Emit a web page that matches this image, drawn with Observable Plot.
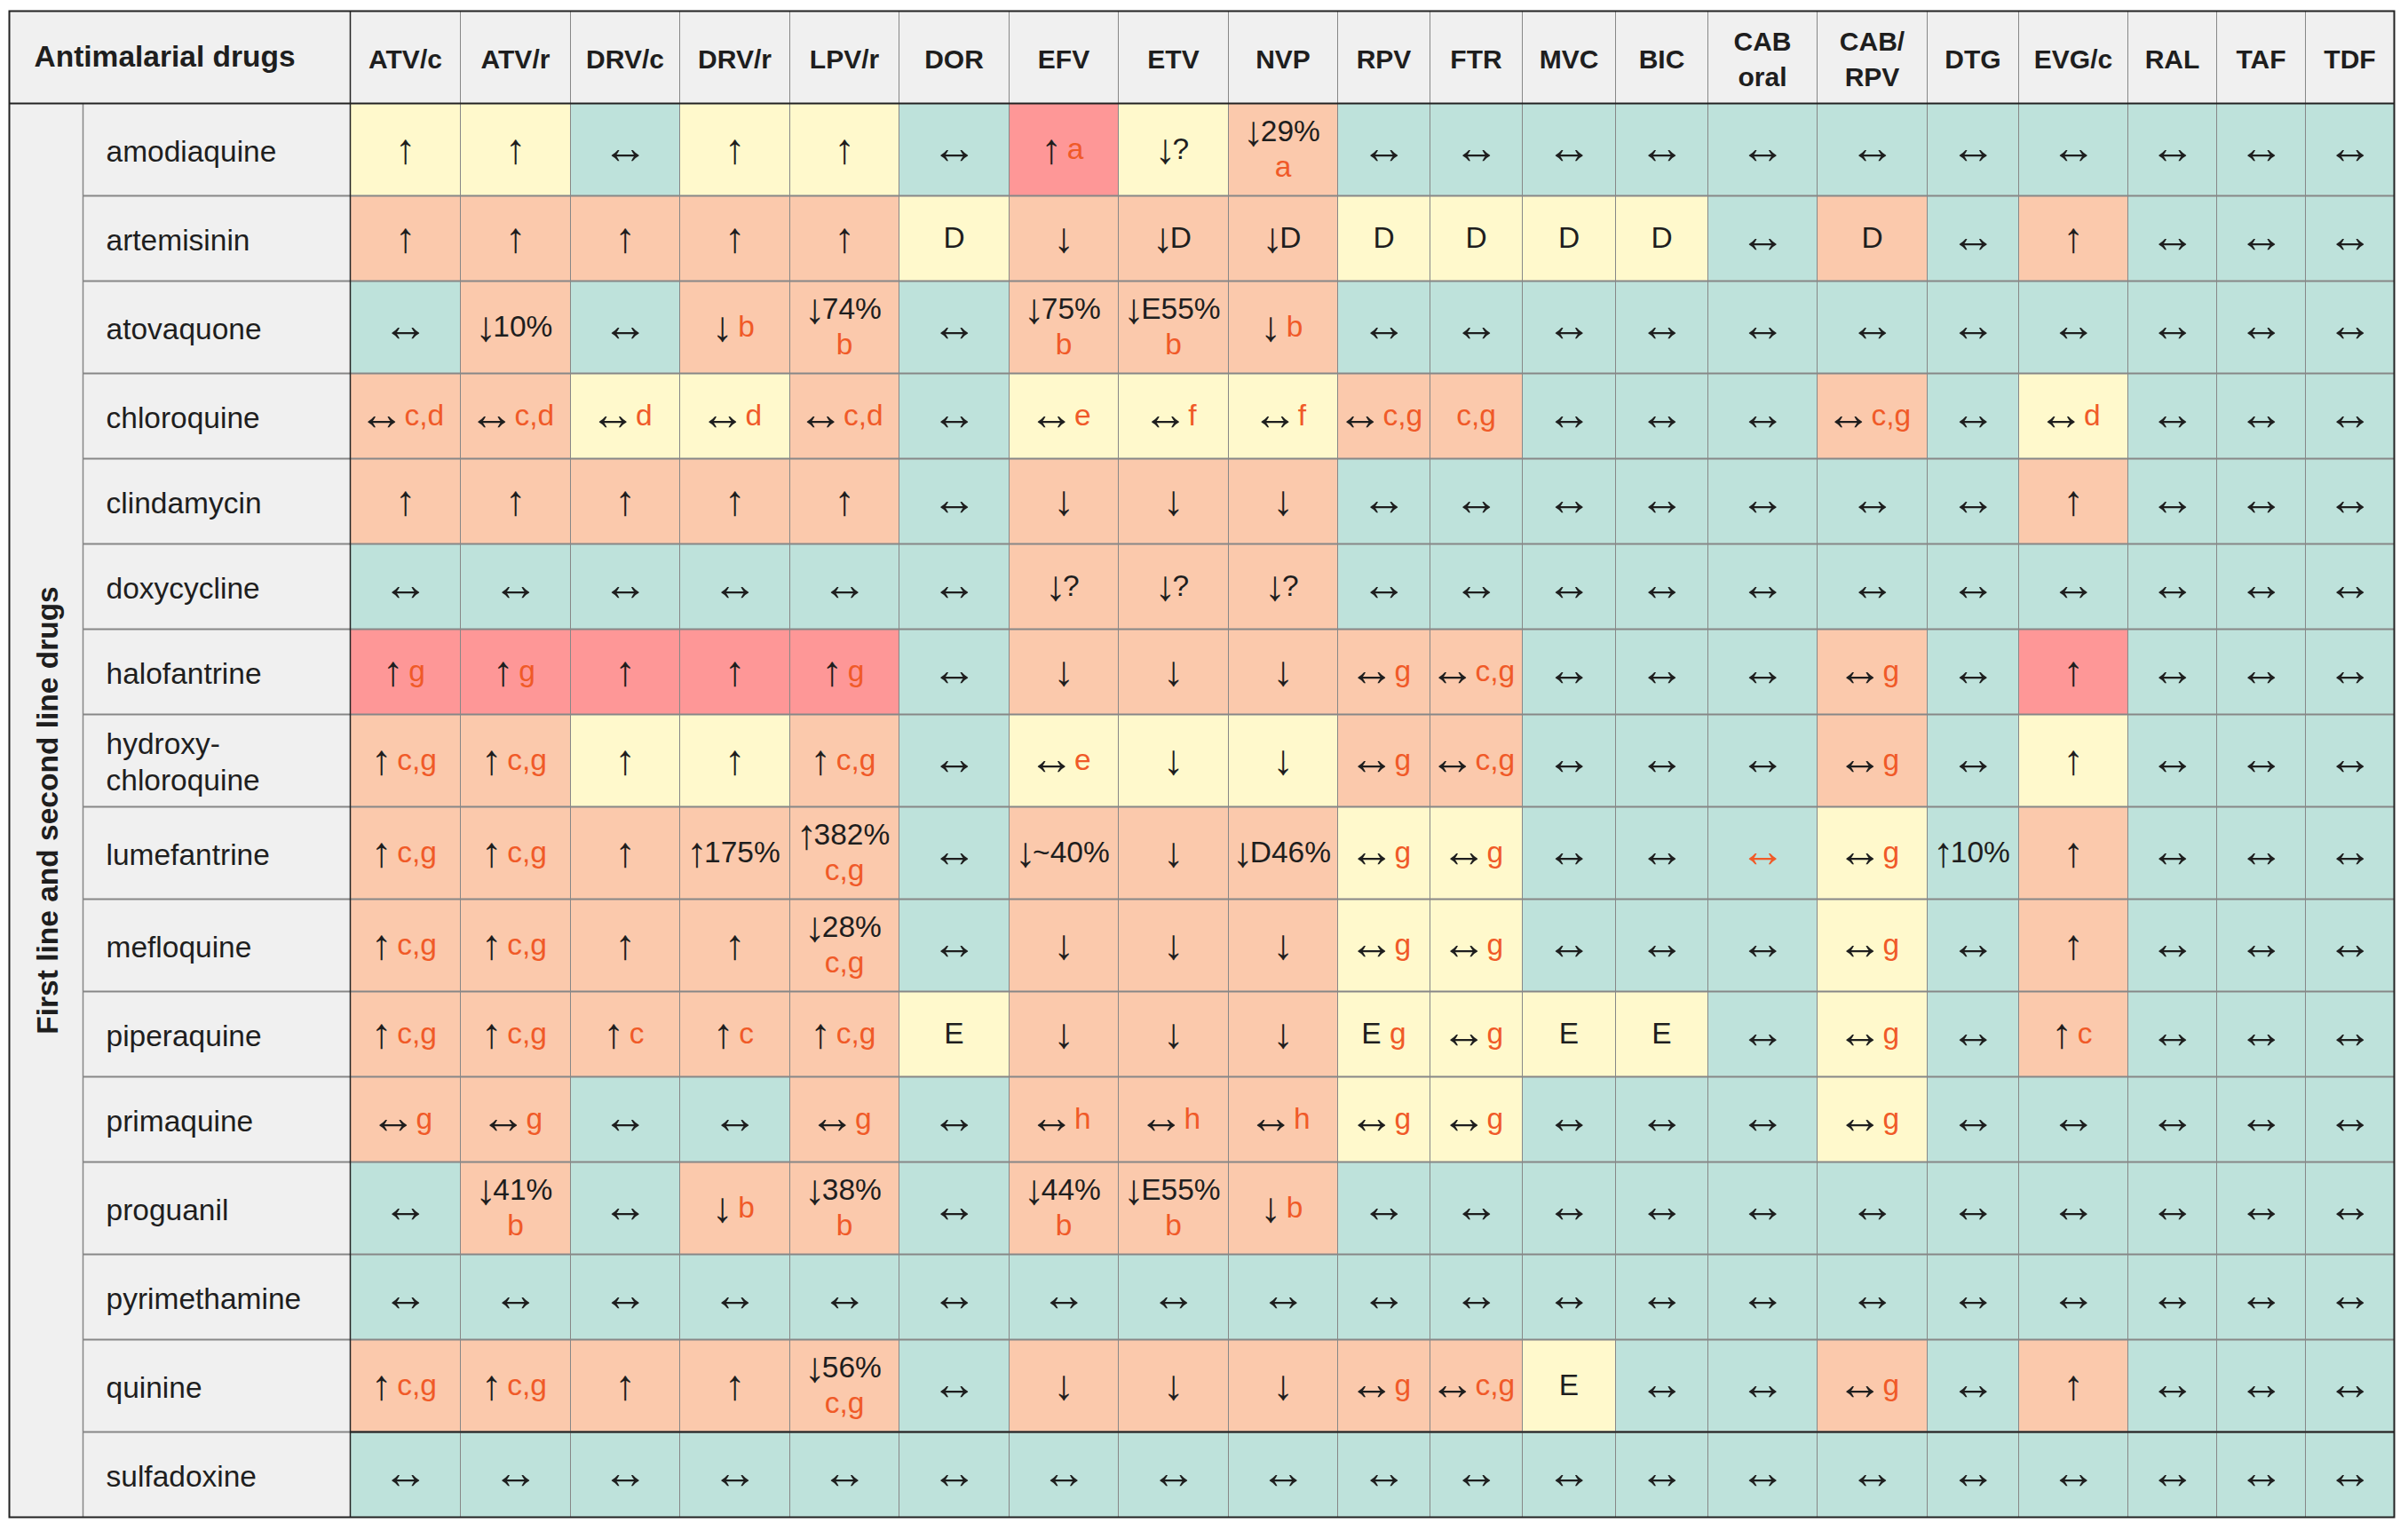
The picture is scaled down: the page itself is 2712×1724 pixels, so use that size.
<!DOCTYPE html>
<html>
<head>
<meta charset="utf-8">
<script src="https://cdn.jsdelivr.net/npm/d3@7"></script>
<script src="https://cdn.jsdelivr.net/npm/@observablehq/plot@0.6"></script>
<style>
  html, body { margin: 0; padding: 0; background: #ffffff; }
  #chart { width: 2712px; height: 1724px; }
</style>
</head>
<body>
<div id="chart"></div>
<script>
// ------------------------------------------------------------------
// DATA
// ------------------------------------------------------------------
const cornerLabel = "Antimalarial drugs";
const groupLabel = "First line and second line drugs";

const antiretrovirals = ["ATV/c","ATV/r","DRV/c","DRV/r","LPV/r","DOR","EFV","ETV","NVP","RPV",
  "FTR","MVC","BIC","CAB oral","CAB/RPV","DTG","EVG/c","RAL","TAF","TDF"];
const antiretroviralLabels = ["ATV/c","ATV/r","DRV/c","DRV/r","LPV/r","DOR","EFV","ETV","NVP","RPV",
  "FTR","MVC","BIC","CAB\noral","CAB/\nRPV","DTG","EVG/c","RAL","TAF","TDF"];

const antimalarials = ["amodiaquine","artemisinin","atovaquone","chloroquine","clindamycin","doxycycline",
  "halofantrine","hydroxychloroquine","lumefantrine","mefloquine","piperaquine","primaquine","proguanil",
  "pyrimethamine","quinine","sulfadoxine"];
const antimalarialLabels = ["amodiaquine","artemisinin","atovaquone","chloroquine","clindamycin","doxycycline",
  "halofantrine","hydroxy-\nchloroquine","lumefantrine","mefloquine","piperaquine","primaquine","proguanil",
  "pyrimethamine","quinine","sulfadoxine"];

// interaction level per cell: G = no interaction, Y = potential weak, O = potential, R = do not coadminister
const levelKeys = ["G","Y","O","R"];
const levelNames = ["No clinically significant interaction","Potential weak interaction","Potential interaction","Do not coadminister"];
const levels = [
  "YYGYYGRYOGGGGGGGGGGG", // amodiaquine
  "OOOOOYOOOYYYYGOGOGGG", // artemisinin
  "GOGOOGOOOGGGGGGGGGGG", // atovaquone
  "OOYYOGYYYOOGGGOGYGGG", // chloroquine
  "OOOOOGOOOGGGGGGGOGGG", // clindamycin
  "GGGGGGOOOGGGGGGGGGGG", // doxycycline
  "RRRRRGOOOOOGGGOGRGGG", // halofantrine
  "OOYYOGYYYOOGGGOGYGGG", // hydroxychloroquine
  "OOOOOGOOOYYGGGYGOGGG", // lumefantrine
  "OOOOOGOOOYYGGGYGOGGG", // mefloquine
  "OOOOOYOOOYYYYGYGOGGG", // piperaquine
  "OOGGOGOOOYYGGGYGGGGG", // primaquine
  "GOGOOGOOOGGGGGGGGGGG", // proguanil
  "GGGGGGGGGGGGGGGGGGGG", // pyrimethamine
  "OOOOOGOOOOOYGGOGOGGG", // quinine
  "GGGGGGGGGGGGGGGGGGGG"  // sulfadoxine
];

// effect text per cell; "x n" = note n beside the effect, "x/n" = note n below it
const effects = [
  ["↑","↑","↔","↑","↑","↔","↑ a","↓?","↓29%/a","↔","↔","↔","↔","↔","↔","↔","↔","↔","↔","↔"],
  ["↑","↑","↑","↑","↑","D","↓","↓D","↓D","D","D","D","D","↔","D","↔","↑","↔","↔","↔"],
  ["↔","↓10%","↔","↓ b","↓74%/b","↔","↓75%/b","↓E55%/b","↓ b","↔","↔","↔","↔","↔","↔","↔","↔","↔","↔","↔"],
  ["↔ c,d","↔ c,d","↔ d","↔ d","↔ c,d","↔","↔ e","↔ f","↔ f","↔ c,g","c,g","↔","↔","↔","↔ c,g","↔","↔ d","↔","↔","↔"],
  ["↑","↑","↑","↑","↑","↔","↓","↓","↓","↔","↔","↔","↔","↔","↔","↔","↑","↔","↔","↔"],
  ["↔","↔","↔","↔","↔","↔","↓?","↓?","↓?","↔","↔","↔","↔","↔","↔","↔","↔","↔","↔","↔"],
  ["↑ g","↑ g","↑","↑","↑ g","↔","↓","↓","↓","↔ g","↔ c,g","↔","↔","↔","↔ g","↔","↑","↔","↔","↔"],
  ["↑ c,g","↑ c,g","↑","↑","↑ c,g","↔","↔ e","↓","↓","↔ g","↔ c,g","↔","↔","↔","↔ g","↔","↑","↔","↔","↔"],
  ["↑ c,g","↑ c,g","↑","↑175%","↑382%/c,g","↔","↓~40%","↓","↓D46%","↔ g","↔ g","↔","↔","↔","↔ g","↑10%","↑","↔","↔","↔"],
  ["↑ c,g","↑ c,g","↑","↑","↓28%/c,g","↔","↓","↓","↓","↔ g","↔ g","↔","↔","↔","↔ g","↔","↑","↔","↔","↔"],
  ["↑ c,g","↑ c,g","↑ c","↑ c","↑ c,g","E","↓","↓","↓","E g","↔ g","E","E","↔","↔ g","↔","↑ c","↔","↔","↔"],
  ["↔ g","↔ g","↔","↔","↔ g","↔","↔ h","↔ h","↔ h","↔ g","↔ g","↔","↔","↔","↔ g","↔","↔","↔","↔","↔"],
  ["↔","↓41%/b","↔","↓ b","↓38%/b","↔","↓44%/b","↓E55%/b","↓ b","↔","↔","↔","↔","↔","↔","↔","↔","↔","↔","↔"],
  ["↔","↔","↔","↔","↔","↔","↔","↔","↔","↔","↔","↔","↔","↔","↔","↔","↔","↔","↔","↔"],
  ["↑ c,g","↑ c,g","↑","↑","↓56%/c,g","↔","↓","↓","↓","↔ g","↔ c,g","E","↔","↔","↔ g","↔","↑","↔","↔","↔"],
  ["↔","↔","↔","↔","↔","↔","↔","↔","↔","↔","↔","↔","↔","↔","↔","↔","↔","↔","↔","↔"]
];

// cells whose effect symbol itself is printed in the note colour
const emphasisedSymbols = [["lumefantrine","CAB oral"]];
// rows drawn with a dark rule above them
const darkRuleAbove = ["sulfadoxine"];

// ------------------------------------------------------------------
// LAYOUT AND STYLE
// ------------------------------------------------------------------
const layout = {
  groupW: 83, labelW: 301, headerH: 104, tallRow: 104, shortRow: 96,
  labelPad: 26, cornerPad: 28, lineOff: 20,
  colW: {"ATV/c":124,"ATV/r":124,"DRV/c":123,"DRV/r":124,"LPV/r":123,"DOR":124,"EFV":123,"ETV":124,
         "NVP":123,"RPV":104,"FTR":104,"MVC":105,"BIC":104,"CAB oral":123,"CAB/RPV":124,"DTG":103,
         "EVG/c":123,"RAL":100,"TAF":100,"TDF":100}
};
const FS = 33.5, HFS = 30;
const arrowFS = {"↑": 47, "↓": 47, "↔": 52};
const arrowLift = {"↑": 0, "↓": 0, "↔": 1.5};
const fontFamily = "'Liberation Sans', Arial, Helvetica, sans-serif";
const levelColours = ["#bee2db", "#fff9cc", "#fbc9ac", "#fe9797"];
const ink = "#1e1e1e", noteColour = "#f05a28", gridColour = "#878787", darkColour = "#222222", panelColour = "#f0f0f0";

// ------------------------------------------------------------------
// DERIVED TABLES
// ------------------------------------------------------------------
const columns = [];
let xAcc = layout.groupW + layout.labelW;
antiretrovirals.forEach((name, i) => {
  const w = layout.colW[name];
  columns.push({name, label: antiretroviralLabels[i], x1: xAcc, x2: xAcc + w, cx: xAcc + w / 2});
  xAcc += w;
});
const tableW = xAcc;

const rows = [];
let yAcc = layout.headerH;
antimalarials.forEach((name, r) => {
  const tall = antimalarialLabels[r].includes("\n") || effects[r].some(e => e.includes("/"));
  const h = tall ? layout.tallRow : layout.shortRow;
  rows.push({name, label: antimalarialLabels[r], y1: yAcc, y2: yAcc + h, cy: yAcc + h / 2});
  yAcc += h;
});
const tableH = yAcc;

const ctx = document.createElement("canvas").getContext("2d");
ctx.font = `${FS}px ${fontFamily}`;
const tw = s => (s ? ctx.measureText(s).width : 0);

const cells = [], arrows = [], words = [], notes = [];
rows.forEach((row, r) => columns.forEach((col, c) => {
  const e = effects[r][c];
  cells.push({antimalarial: row.name, antiretroviral: col.name, level: levels[r][c],
              x1: col.x1, x2: col.x2, y1: row.y1, y2: row.y2});
  let main = e, inline = "", below = "";
  if (e.includes("/")) [main, below] = e.split("/");
  else if (e.includes(" ")) [main, inline] = e.split(" ");
  else if (/^[a-h](,[a-h])*$/.test(e)) { main = ""; inline = e; }
  let arrow = "", rest = main;
  if (main && arrowFS[main[0]]) { arrow = main[0]; rest = main.slice(1); }
  const ly = below ? row.cy - layout.lineOff : row.cy;
  const wA = tw(arrow), wR = tw(rest), gap = main && inline ? tw(" ") : 0;
  const total = wA + wR + gap + tw(inline);
  const sx = col.cx - total / 2;
  const emph = emphasisedSymbols.some(([m, a]) => m === row.name && a === col.name);
  if (arrow) arrows.push({x: sx + wA / 2, y: ly - arrowLift[arrow], text: arrow, size: arrowFS[arrow], emph});
  if (rest) words.push({x: sx + wA, y: ly, text: rest});
  if (inline) notes.push({x: sx + wA + wR + gap, y: ly, text: inline});
  if (below) notes.push({x: col.cx - tw(below) / 2, y: row.cy + layout.lineOff, text: below});
}));

const darkRows = rows.filter(r => darkRuleAbove.includes(r.name));

// ------------------------------------------------------------------
// PLOT
// ------------------------------------------------------------------
const W = 2712, H = 1724, mL = 10, mT = 12;
const chart = Plot.plot({
  width: W, height: H,
  marginLeft: mL, marginTop: mT,
  marginRight: W - mL - tableW, marginBottom: H - mT - tableH,
  x: {domain: [0, tableW], axis: null},
  y: {domain: [0, tableH], reverse: true, axis: null},
  color: {type: "ordinal", domain: levelKeys, range: levelColours},
  style: {fontFamily, background: "#ffffff", color: ink},
  marks: [
    Plot.frame({fill: panelColour, stroke: "none"}),
    Plot.rect(cells, {x1: "x1", x2: "x2", y1: "y1", y2: "y2", fill: "level",
      title: d => `${d.antimalarial} × ${d.antiretroviral}: ${levelNames[levelKeys.indexOf(d.level)]}`}),
    // grid
    Plot.ruleX(columns.slice(1), {x: "x1", y1: 0, y2: tableH, stroke: gridColour, strokeWidth: 1}),
    Plot.ruleY(rows.slice(1), {y: "y1", x1: layout.groupW, x2: tableW, stroke: gridColour, strokeWidth: 2}),
    Plot.ruleX([layout.groupW], {y1: layout.headerH, y2: tableH, stroke: gridColour, strokeWidth: 1.5}),
    Plot.ruleY(darkRows, {y: "y1", x1: layout.groupW + layout.labelW, x2: tableW, stroke: darkColour, strokeWidth: 2}),
    Plot.ruleX([layout.groupW + layout.labelW], {y1: 0, y2: tableH, stroke: darkColour, strokeWidth: 1.5}),
    Plot.ruleY([layout.headerH], {x1: 0, x2: tableW, stroke: darkColour, strokeWidth: 2}),
    Plot.frame({stroke: darkColour, strokeWidth: 2}),
    // header
    Plot.text([cornerLabel], {x: layout.cornerPad, y: layout.headerH / 2, text: d => d,
      textAnchor: "start", lineAnchor: "middle", fontWeight: "bold", fontSize: FS, fill: ink}),
    Plot.text(columns, {x: "cx", y: layout.headerH / 2, text: "label", textAnchor: "middle",
      lineAnchor: "middle", lineHeight: 1.33, fontWeight: "bold", fontSize: HFS, fill: ink}),
    // left labels
    Plot.text([groupLabel], {x: layout.groupW / 2 + 2, y: layout.headerH + (tableH - layout.headerH) / 2,
      text: d => d, rotate: -90, fontWeight: "bold", fontSize: FS, fill: ink}),
    Plot.text(rows, {x: layout.groupW + layout.labelPad, y: "cy", text: "label", textAnchor: "start",
      lineAnchor: "middle", lineHeight: 1.22, fontSize: FS, fill: ink}),
    // cell content
    Plot.text(arrows.filter(d => !d.emph), {x: "x", y: "y", text: "text", textAnchor: "middle",
      lineAnchor: "middle", fontSize: "size", fill: ink}),
    Plot.text(arrows.filter(d => d.emph), {x: "x", y: "y", text: "text", textAnchor: "middle",
      lineAnchor: "middle", fontSize: "size", fill: noteColour}),
    Plot.text(words, {x: "x", y: "y", text: "text", textAnchor: "start",
      lineAnchor: "middle", fontSize: FS, fill: ink}),
    Plot.text(notes, {x: "x", y: "y", text: "text", textAnchor: "start",
      lineAnchor: "middle", fontSize: FS, fill: noteColour})
  ]
});
document.getElementById("chart").appendChild(chart);
</script>
</body>
</html>
